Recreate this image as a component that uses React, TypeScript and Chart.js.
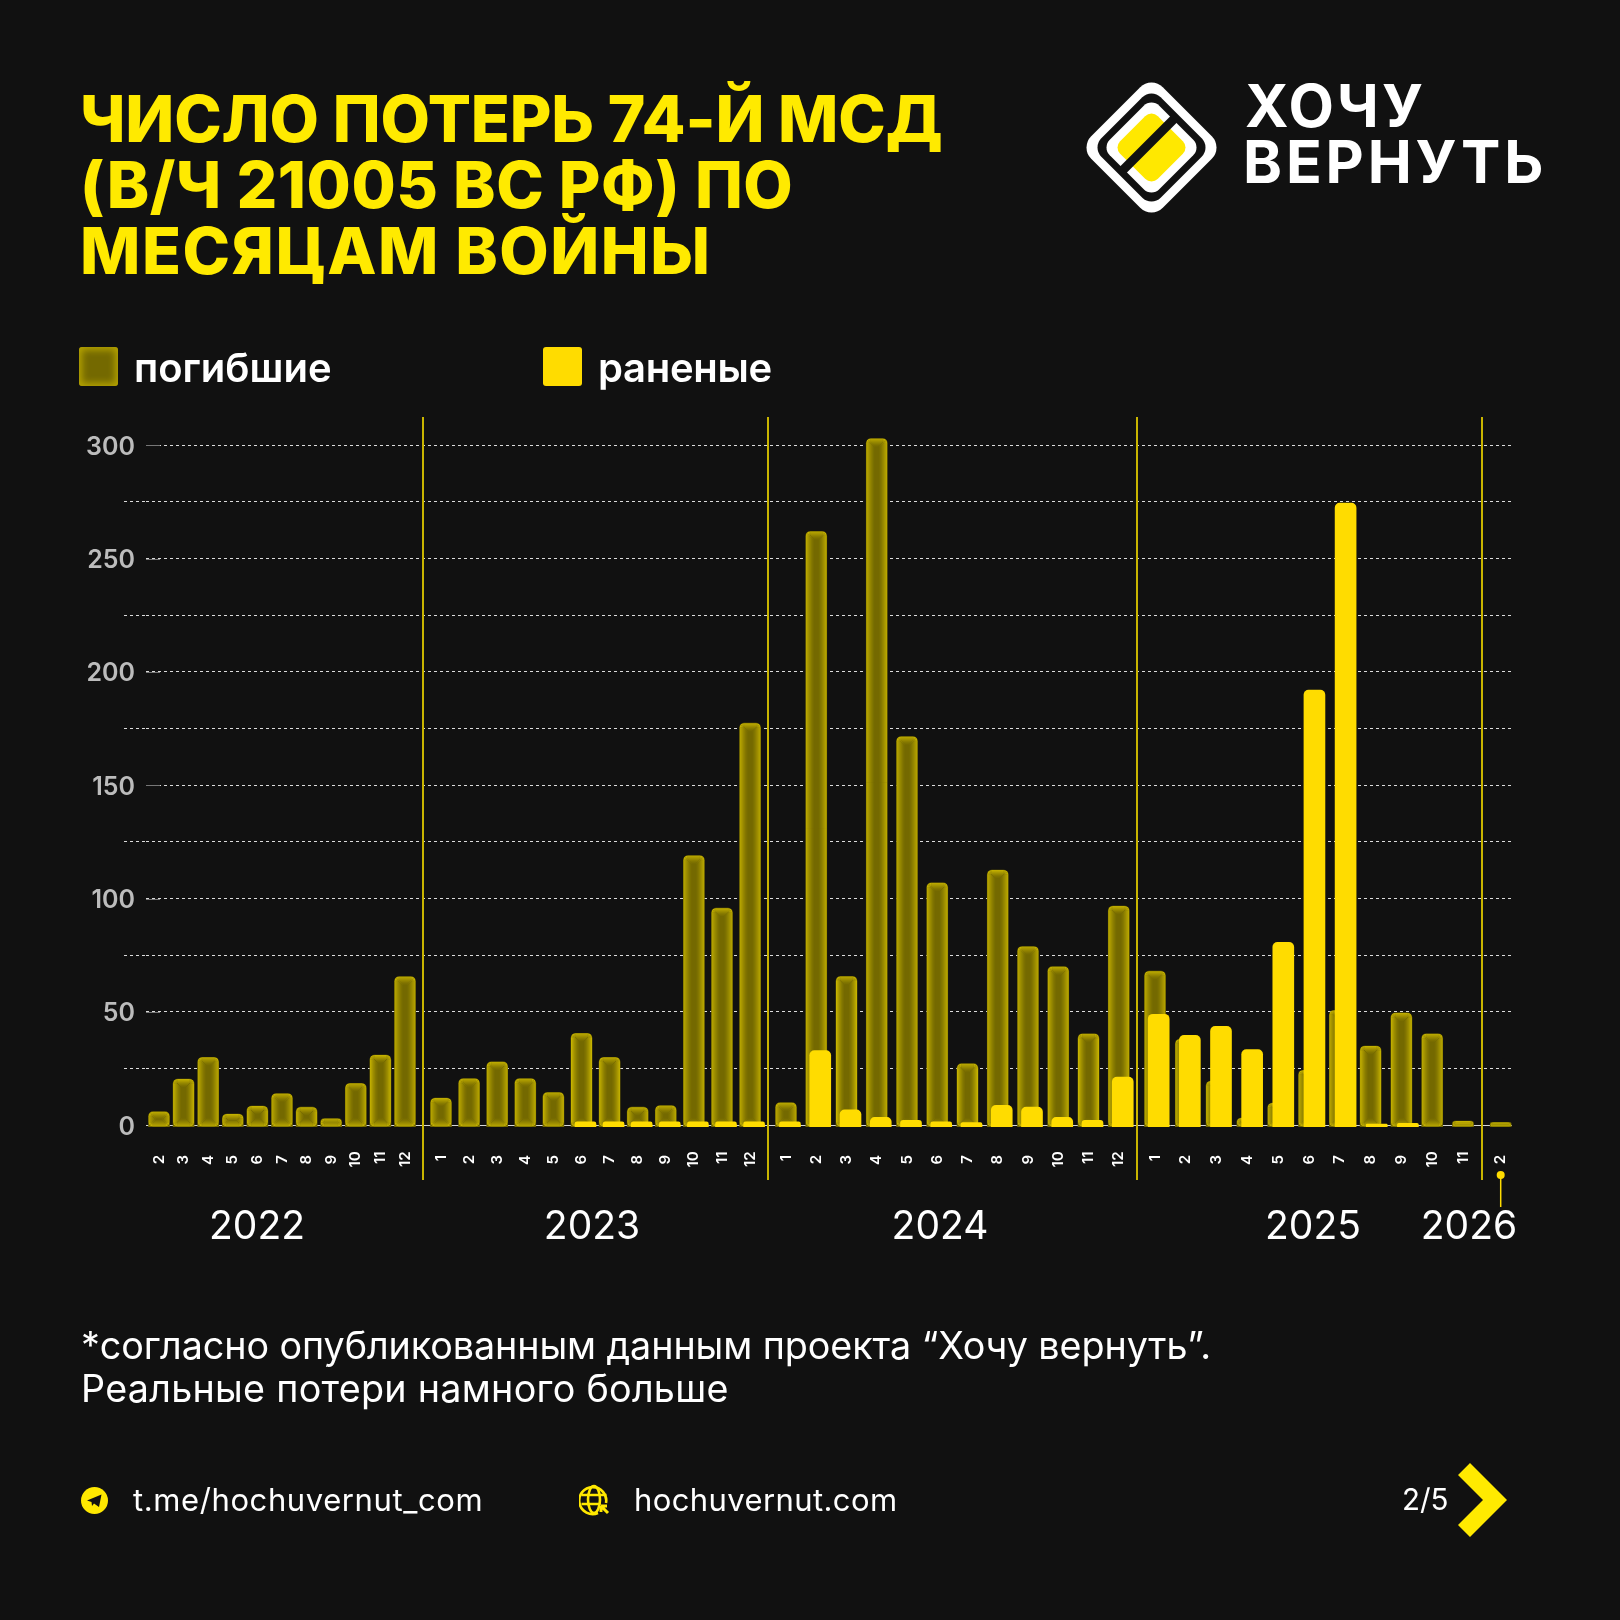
import React, { useEffect, useRef } from "react";
import { Chart, BarController, BarElement, LinearScale, CategoryScale } from "chart.js";

const months = ["2","3","4","5","6","7","8","9","10","11","12","1","2","3","4","5","6","7","8","9","10","11","12","1","2","3","4","5","6","7","8","9","10","11","12","1","2","3","4","5","6","7","8","9","10","11","2"];
const killed = [6,20.4,30,5,8.5,14,8,3,18.5,31,65.6, 12,20.6,28,20.6,14.5,40.6,30,8,8.7,119,95.8,177.4, 10,262,65.7,303,171.5,107,27.2,112.6,78.9,70,40.4,96.7, 68,38,19.5,3.2,9.8,24.3,50.7,35,49.6,40.4,1.9, 1.3];
const wounded = [null,null,null,null,null,null,null,null,null,null,null, null,null,null,null,null,1.5,1.5,1.5,1.5,1.5,1.5,1.5, 1.5,33,6.8,3.5,2.2,1.5,1.2,8.8,8,3.5,2.2,21.3, 49,39.7,43.7,33.4,80.7,192,274.5,0.5,0.9,null,null, null];
const yearLabels = ["2022","2023","2024","2025","2026"];
const yearCenters = [257,592,940,1313,1469];
const legendNames = ["погибшие","раненые"];
const yTicks = [0,25,50,75,100,125,150,175,200,225,250,275,300];

// Month slots: every year has its own first slot and slot pitch, measured from the plot's left edge.
const KILLED_BANDS = [
  { count: 11, first: 13, step: 24.6 },
  { count: 12, first: 295, step: 28.1 },
  { count: 12, first: 640, step: 30.25 },
  { count: 11, first: 1009, step: 30.8 },
  { count: 1, first: 1354.7, step: 0 },
];
const WOUNDED_BANDS = [
  { count: 11, first: 17, step: 24.6 },
  { count: 12, first: 299, step: 28.1 },
  { count: 12, first: 644, step: 30.25 },
  { count: 11, first: 1012.7, step: 31.15 },
  { count: 1, first: 1358.7, step: 0 },
];
const slotOffset = (bands: any[], i: number) => {
  let n = i;
  for (const b of bands) {
    if (n < b.count) return b.first + n * b.step;
    n -= b.count;
  }
  return 0;
};

class YearBandScale extends CategoryScale {
  static id = "yearBand";
  static defaults = CategoryScale.defaults;
  getPixelForValue(value: any) {
    const i = typeof value === "number" ? value : (this as any).parse(value);
    return (this as any).left + slotOffset((this as any).options.bands, i);
  }
}

Chart.register(BarController, BarElement, LinearScale, CategoryScale, YearBandScale);

const GOLD = "#FFDC00";
const OLIVE = "#746900";
const GLOW = [0.78, 0.64, 0.52, 0.4, 0.3, 0.2, 0.12, 0.06];

const glowPlugin = {
  id: "glow",
  afterDatasetDraw(chart: any, args: any) {
    if (args.index !== 0) return;
    const ctx = chart.ctx;
    ctx.save();
    for (const el of args.meta.data) {
      const w = el.width, x = el.x - w / 2, y = el.y, h = el.base - el.y;
      ctx.save();
      ctx.beginPath();
      ctx.roundRect(x, y, w, h, [4, 4, 0, 0]);
      ctx.clip();
      GLOW.forEach((a, i) => {
        const iw = w - 1 - 2 * i, ih = h - 1 - 2 * i;
        if (iw <= 0 || ih <= 0) return;
        ctx.strokeStyle = `rgba(222,200,0,${a})`;
        ctx.lineWidth = 1;
        ctx.beginPath();
        ctx.roundRect(x + 0.5 + i, y + 0.5 + i, iw, ih, Math.max(1, 4 - i));
        ctx.stroke();
      });
      ctx.restore();
    }
    ctx.restore();
  },
};

const decorPlugin = {
  id: "decor",
  beforeDatasetsDraw(chart: any) {
    const ctx = chart.ctx, y = chart.scales.y;
    ctx.save();
    ctx.strokeStyle = "#777777";
    ctx.lineWidth = 1;
    for (const t of y.ticks) {
      if (t.value % 50 !== 0 || t.value === 0) continue;
      const py = Math.round(y.getPixelForValue(t.value)) + 0.5;
      ctx.beginPath();
      ctx.moveTo(y.right, py);
      ctx.lineTo(y.right + 14, py);
      ctx.stroke();
    }
    ctx.restore();
  },
  afterDraw(chart: any) {
    const ctx = chart.ctx, x = chart.scales.x;
    ctx.save();
    ctx.strokeStyle = "#c9b500";
    ctx.lineWidth = 2;
    let idx = 0;
    for (let b = 0; b < KILLED_BANDS.length - 1; b++) {
      idx += KILLED_BANDS[b].count;
      const sep = Math.round((x.getPixelForValue(idx - 1) + x.getPixelForValue(idx)) / 2);
      ctx.beginPath();
      ctx.moveTo(sep, 417);
      ctx.lineTo(sep, 1180);
      ctx.stroke();
    }
    const last = x.getPixelForValue(months.length - 1);
    ctx.strokeStyle = GOLD;
    ctx.lineWidth = 1.5;
    ctx.beginPath();
    ctx.moveTo(last, 1175);
    ctx.lineTo(last, 1207);
    ctx.stroke();
    ctx.fillStyle = GOLD;
    ctx.beginPath();
    ctx.arc(last, 1175, 4, 0, Math.PI * 2);
    ctx.fill();
    ctx.restore();
  },
};

const FONT = "Inter, 'Noto Sans', sans-serif";
const txt = (left: number, top: number, size: number, weight: number, color: string, extra: any = {}): React.CSSProperties => ({
  position: "absolute", left, top, fontSize: size, fontWeight: weight, color, fontFamily: FONT,
  whiteSpace: "nowrap", lineHeight: 1, ...extra,
});

function Logo() {
  const d = (ext: number, r: number, fill: string) => {
    const s = (ext - 2 * r) / Math.SQRT2 + 2 * r;
    return <rect x={-s / 2} y={-s / 2} width={s} height={s} rx={r} fill={fill} transform="rotate(45)" />;
  };
  return (
    <svg style={{ position: "absolute", left: 1079, top: 75 }} width={145} height={145} viewBox="-72.5 -72.5 145 145">
      {d(130, 16, "#fff")}
      {d(108, 13, "#111")}
      {d(90, 11, "#fff")}
      {d(68, 9, "#FFE800")}
      <line x1={22.5} y1={-28.5} x2={-28.5} y2={22.5} stroke="#111" strokeWidth={9} />
    </svg>
  );
}

function Telegram() {
  return (
    <svg style={{ position: "absolute", left: 81, top: 1487 }} width={27} height={27} viewBox="0 0 27 27">
      <circle cx={13.5} cy={13.5} r={13.5} fill="#FFE800" />
      <path d="M6 13.5 L20.5 7.5 L18 20 L13 16.5 L11 19 L10.5 15 Z" fill="#111" />
    </svg>
  );
}

function Globe() {
  return (
    <svg style={{ position: "absolute", left: 579, top: 1484 }} width={32} height={32} viewBox="0 0 32 32" fill="none" stroke="#FFE800" strokeWidth={2.6}>
      <path d="M27 19 A13.5 13.5 0 1 0 19 29" />
      <ellipse cx={15} cy={15.5} rx={6} ry={13.5} />
      <path d="M2.5 11 H27.5 M2.5 20 H20" />
      <path d="M22 22 L29 29 M22 22 H28 M22 22 V28" strokeWidth={3} />
    </svg>
  );
}

const titleLines = [
  { text: "ЧИСЛО ПОТЕРЬ 74-Й МСД", spacing: -0.15 },
  { text: "(В/Ч 21005 ВС РФ) ПО", spacing: 0.55 },
  { text: "МЕСЯЦАМ ВОЙНЫ", spacing: 1.5 },
];

export default function App() {
  const ref = useRef<HTMLCanvasElement>(null);
  useEffect(() => {
    const radius = { topLeft: 5, topRight: 5, bottomLeft: 0, bottomRight: 0 };
    const chart = new Chart(ref.current as HTMLCanvasElement, {
      type: "bar",
      data: {
        labels: months,
        datasets: [
          { label: legendNames[0], data: killed, xAxisID: "x", backgroundColor: OLIVE, base: -0.55, clip: false, order: 2, borderRadius: radius, borderSkipped: false },
          { label: legendNames[1], data: wounded, xAxisID: "xW", backgroundColor: GOLD, base: -0.55, clip: false, order: 1, borderRadius: radius, borderSkipped: false },
        ] as any,
      },
      options: {
        responsive: false,
        animation: false,
        events: [],
        layout: { autoPadding: false, padding: { left: 0, top: 418.1, right: 108, bottom: 434.7 } },
        datasets: { bar: { barThickness: 21, grouped: false } },
        plugins: { legend: { display: false }, tooltip: { enabled: false } },
        scales: {
          x: {
            type: "yearBand",
            bands: KILLED_BANDS,
            grid: { display: false, drawTicks: false },
            border: { display: false },
            afterFit: (s: any) => { s.height = 60; },
            ticks: {
              autoSkip: false, maxRotation: 90, minRotation: 90, padding: 26, labelOffset: 0,
              color: "#ffffff", font: { family: FONT, size: 15, weight: 600 },
              callback: (_v: any, i: number) => months[i].length === 1 ? months[i] + "\u2009\u200a" : months[i],
            },
          },
          xW: { type: "yearBand", bands: WOUNDED_BANDS, axis: "x", display: false, grid: { display: false } },
          y: {
            min: 0, max: 312,
            afterFit: (s: any) => { s.width = 146; },
            afterBuildTicks: (s: any) => { s.ticks = yTicks.map((value) => ({ value })); },
            border: { display: false, dash: (c: any) => (c.tick && c.tick.value === 0 ? [] : [3, 3]) },
            grid: {
              color: (c: any) => (c.tick.value === 0 ? "#d8d8d8" : "#dcdcdc"),
              lineWidth: 1,
              tickLength: 22,
              tickWidth: 1,
              tickBorderDash: [3, 3],
              tickColor: (c: any) => (c.tick.value % 50 === 0 ? "rgba(0,0,0,0)" : "#dcdcdc"),
            },
            ticks: {
              padding: -11, labelOffset: 2, color: "#bcbcbc",
              font: { family: FONT, size: 25, weight: 600 },
              callback: (v: any) => (v % 50 === 0 ? String(v) : ""),
            },
          },
        },
      } as any,
      plugins: [glowPlugin, decorPlugin],
    });
    return () => chart.destroy();
  }, []);

  return (
    <div style={{ position: "absolute", left: 0, top: 0, width: 1620, height: 1620, background: "#111111", overflow: "hidden" }}>
      <canvas ref={ref} width={1620} height={1620} style={{ position: "absolute", left: 0, top: 0, width: 1620, height: 1620 }} />
      {titleLines.map((l, i) => (
        <div key={l.text} style={txt(80, 87 + i * 66, 64, 800, "#FFEA00", { letterSpacing: l.spacing })}>{l.text}</div>
      ))}
      <Logo />
      <div style={txt(1245, 76, 59, 700, "#fff", { letterSpacing: 3.1 })}>ХОЧУ</div>
      <div style={txt(1243, 132, 59, 700, "#fff", { letterSpacing: 3.85 })}>ВЕРНУТЬ</div>

      <div style={{ position: "absolute", left: 79, top: 347, width: 39, height: 39, borderRadius: 3, background: OLIVE, boxShadow: "inset 0 0 7px 3px #b5a300" }} />
      <div style={txt(134, 348, 40, 600, "#fff")}>{legendNames[0]}</div>
      <div style={{ position: "absolute", left: 543, top: 347, width: 39, height: 39, borderRadius: 3, background: GOLD }} />
      <div style={txt(598, 348, 40, 600, "#fff", { letterSpacing: -0.3 })}>{legendNames[1]}</div>

      {yearLabels.map((y, i) => (
        <div key={y} style={txt(yearCenters[i], 1205, 39, 400, "#fff", { transform: "translateX(-50%)" })}>{y}</div>
      ))}

      <div style={txt(81, 1327, 37.7, 400, "#fff", { letterSpacing: -0.08 })}>*согласно опубликованным данным проекта “Хочу вернуть”.</div>
      <div style={txt(81, 1370, 37.7, 400, "#fff", { letterSpacing: 0.28 })}>Реальные потери намного больше</div>

      <Telegram />
      <div style={txt(133, 1484, 31, 400, "#fff", { letterSpacing: 0.6 })}>t.me/hochuvernut_com</div>
      <Globe />
      <div style={txt(634, 1484, 31, 400, "#fff", { letterSpacing: 0.4 })}>hochuvernut.com</div>
      <div style={txt(1402, 1485, 29.5, 400, "#fff")}>2/5</div>
      <svg style={{ position: "absolute", left: 1450, top: 1455 }} width={65} height={90} viewBox="1450 1455 65 90">
        <polygon points="1470,1463 1458,1475 1483,1500 1458,1525 1470,1537 1507,1500" fill="#FFEA00" />
      </svg>
    </div>
  );
}
